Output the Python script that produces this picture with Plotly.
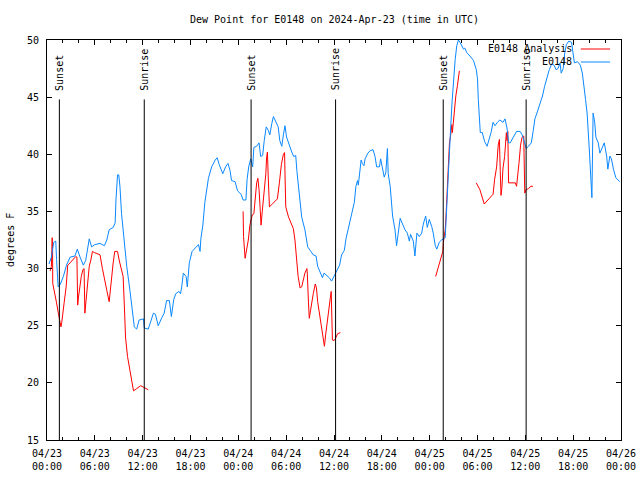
import pandas as pd
import plotly.graph_objects as go

BASE = pd.Timestamp("2024-04-23 00:00")

# Observed dew point (E0148): hours since 04/23 00:00 UTC, degrees F
obs_h = [0.25,0.55,0.85,1.1,1.2,1.4,1.65,2.05,2.45,2.9,3.5,3.8,4.15,4.55,4.85,5.05,5.3,5.6,6.0,6.65,7.2,7.5,7.8,8.3,8.55,8.65,8.85,9.0,9.15,9.35,9.7,10.0,10.4,10.7,10.95,11.25,11.55,12.1,12.2,12.7,13.05,13.35,13.6,13.95,14.4,14.7,15.0,15.35,15.6,15.9,16.15,16.55,16.75,16.9,17.1,17.45,17.6,17.85,18.2,18.7,19.0,19.2,19.3,19.55,19.8,20.25,20.65,21.1,21.35,21.6,22.05,22.4,22.7,22.95,23.15,23.6,23.9,24.35,24.6,24.95,25.1,25.3,25.55,25.8,25.95,26.3,26.6,26.8,27.05,27.25,27.5,27.75,27.95,28.2,28.4,28.6,28.8,29.0,29.2,29.45,29.65,29.85,30.05,30.35,30.7,30.95,31.2,31.35,31.6,31.95,32.35,32.7,33.0,33.4,33.75,33.95,34.25,34.55,34.75,35.1,35.4,35.7,36.05,36.35,36.7,36.95,37.3,37.5,37.9,38.2,38.55,38.75,38.95,39.05,39.2,39.4,39.55,39.75,39.9,40.25,40.5,40.9,41.15,41.35,41.7,41.85,42.05,42.3,42.5,42.7,42.8,43.05,43.35,43.65,43.85,44.1,44.3,44.6,44.9,45.2,45.45,45.6,45.95,46.15,46.4,46.7,47.0,47.2,47.5,47.7,47.95,48.25,48.45,48.7,48.9,49.2,49.5,49.95,50.05,50.25,50.45,50.65,50.8,51.0,51.2,51.4,51.6,51.8,52.05,52.25,52.4,52.65,53.05,53.5,53.85,54.0,54.1,54.25,54.35,54.6,54.7,54.9,55.2,55.45,55.7,55.95,56.2,56.5,56.8,57.2,57.45,57.7,57.9,58.1,58.5,58.9,59.35,59.6,59.85,60.1,60.4,60.75,61.0,61.2,61.5,61.85,62.15,62.4,62.7,63.0,63.3,63.6,63.85,64.1,64.35,64.5,64.75,64.95,65.15,65.45,65.8,66.0,66.15,66.55,66.9,67.15,67.3,67.55,67.75,67.85,68.05,68.2,68.35,68.5,68.7,68.85,69.15,69.35,69.55,69.9,70.2,70.35,70.6,70.8,71.05,71.35,71.85]
obs_v = [30.4,31.0,32.3,32.4,30.8,28.4,28.6,29.3,30.3,31.0,31.1,31.7,31.0,30.3,30.7,31.6,32.6,31.9,32.1,32.2,32.0,32.5,33.4,33.6,34.0,36.0,38.2,38.2,37.2,34.8,32.2,30.2,28.1,26.1,24.9,24.7,25.5,25.6,24.8,24.7,25.5,26.1,26.0,25.0,25.7,26.1,27.2,27.2,25.8,27.3,27.8,28.0,27.8,28.4,29.6,29.3,28.4,30.5,31.5,31.9,32.1,31.5,32.6,33.8,35.8,37.9,38.9,39.5,39.7,39.1,38.3,38.9,39.2,38.6,37.7,37.6,36.8,36.5,36.0,36.0,37.8,38.9,39.6,38.9,40.6,40.7,41.0,39.8,39.9,41.2,42.4,42.1,41.7,42.7,43.3,43.0,42.7,42.4,41.2,40.7,41.7,42.5,41.5,40.8,40.2,39.8,39.9,38.5,36.9,34.5,33.4,31.9,31.6,31.2,31.1,30.2,29.7,29.2,29.6,29.4,29.2,28.9,29.4,29.9,30.3,31.2,31.6,32.6,33.8,34.7,35.8,37.2,37.7,37.3,38.3,39.5,39.2,39.0,39.6,40.1,40.3,40.4,39.8,38.9,38.9,39.6,38.9,38.0,38.4,40.5,38.3,37.2,34.6,33.4,32.0,33.4,34.4,33.9,33.4,33.1,32.4,33.0,32.4,31.1,33.1,32.8,33.1,33.9,34.6,33.6,34.3,33.7,33.1,32.0,31.7,32.3,32.5,32.7,34.3,37.5,40.4,42.5,44.5,46.8,48.3,49.5,50.0,49.8,49.5,49.2,49.3,48.9,48.6,48.2,47.4,46.6,44.8,42.8,41.9,41.9,41.6,41.1,40.7,41.2,41.9,42.8,42.5,42.8,43.0,42.8,43.1,42.3,41.0,41.0,41.5,42.0,42.0,41.7,41.2,40.5,40.7,41.0,42.1,43.1,43.7,44.4,45.1,45.9,46.7,47.4,47.9,47.8,47.4,47.5,48.0,47.1,47.5,48.9,49.6,49.9,49.8,48.9,48.0,48.1,47.8,47.1,46.0,44.8,43.6,41.9,40.1,38.1,36.2,43.6,42.8,41.5,41.0,40.1,40.4,41.0,39.85,38.7,39.85,39.6,38.7,37.95,37.6]

# Analysis dew point (E0148 Analysis), four segments with gaps between them
ana1_h = [0.4,0.55,0.65,0.7,0.72,1.0,1.2,1.42,1.6,1.75,1.85,1.95,2.15,2.4,2.6,2.9,3.3,3.6,3.75,3.85,3.95,4.15,4.3,4.5,4.65,4.75,4.9,5.05,5.2,5.3,5.5,5.7,5.95,6.35,6.65,6.95,7.2,7.5,7.8,8.05,8.3,8.5,8.85,9.05,9.35,9.55,9.7,9.85,10.1,10.4,10.6,10.85,11.25,11.75,12.15,12.7]
ana1_v = [29.8,30.2,32.7,31.6,28.7,27.8,27.0,26.1,25.5,24.9,25.3,26.1,27.0,28.4,30.3,30.5,30.8,31.05,31.0,26.8,27.5,28.9,29.3,29.9,30.0,26.1,27.3,28.1,29.3,30.2,30.75,31.5,31.4,31.3,31.2,30.0,29.0,28.1,27.1,29.0,30.5,31.5,31.5,30.75,29.9,29.3,26.8,24.0,22.3,21.0,20.0,19.3,19.5,19.75,19.6,19.4]
ana2_h = [24.6,24.65,24.85,25.05,25.25,25.45,25.65,25.75,25.95,26.1,26.3,26.45,26.6,26.75,26.85,27.0,27.25,27.45,27.55,27.65,27.75,27.9,28.2,28.6,28.9,29.15,29.4,29.65,29.8,29.87,29.95,30.3,30.6,30.9,31.1,31.3,31.5,31.75,31.95,32.15,32.35,32.6,32.65,32.8,32.9,33.05,33.2,33.4,33.65,33.8,33.95,34.15,34.4,34.6,34.8,34.95,35.15,35.4,35.55,35.65,35.72,35.8,36.0,36.2,36.45,36.8]
ana2_v = [35.0,32.8,30.9,31.6,32.5,33.8,34.3,34.7,34.8,36.0,37.5,37.9,36.9,35.1,33.8,35.0,36.6,38.3,39.8,40.2,38.0,35.4,35.6,35.9,36.1,37.5,39.1,40.0,40.15,37.75,35.4,34.5,34.0,33.5,32.5,31.0,29.3,28.3,28.4,29.0,29.6,30.0,29.6,27.0,25.65,26.3,27.0,27.8,28.65,28.3,27.1,26.1,24.8,23.75,23.2,24.2,25.5,26.7,27.5,28.0,25.8,23.75,23.7,23.9,24.3,24.4]
ana3_h = [48.75,49.1,49.4,49.65,49.72,49.85,49.95,50.05,50.15,50.23,50.35,50.48,50.65,50.78,50.85,50.98,51.1,51.28,51.48,51.6,51.73]
ana3_v = [29.3,30.2,31.0,31.5,32.3,32.85,33.4,34.6,36.1,37.8,39.6,41.0,41.75,42.6,41.9,42.9,43.9,45.1,46.0,46.85,47.3]
ana4_h = [53.85,54.3,54.85,55.35,55.95,56.15,56.4,56.6,56.75,56.85,56.95,57.05,57.2,57.4,57.5,57.62,57.7,57.8,57.9,58.3,58.75,58.9,59.05,59.2,59.4,59.6,59.8,59.93,60.1,60.4,60.7,60.95]
ana4_v = [37.5,36.9,35.65,36.0,36.5,37.8,38.9,40.8,41.3,38.6,36.4,37.0,38.8,39.8,41.2,41.9,41.2,42.0,37.5,37.5,37.5,37.2,38.0,39.2,40.8,41.5,41.6,36.6,36.9,37.0,37.2,37.2]

# Sun events (hours since 04/23 00:00 UTC)
event_h = [1.55, 12.2, 25.6, 36.2, 49.7, 60.1]
event_names = ["Sunset", "Sunrise", "Sunset", "Sunrise", "Sunset", "Sunrise"]
event_line_top = 44.8
event_label_y = 45.4

# Axis ticks
tick_h = [0, 6, 12, 18, 24, 30, 36, 42, 48, 54, 60, 66, 72]
tick_labels = ["04/23<br>00:00", "04/23<br>06:00", "04/23<br>12:00", "04/23<br>18:00",
               "04/24<br>00:00", "04/24<br>06:00", "04/24<br>12:00", "04/24<br>18:00",
               "04/25<br>00:00", "04/25<br>06:00", "04/25<br>12:00", "04/25<br>18:00",
               "04/26<br>00:00"]
y_ticks = [15, 20, 25, 30, 35, 40, 45, 50]

def to_time(hours):
    return [None if h is None else BASE + pd.Timedelta(hours=h) for h in hours]

red_h, red_v = [], []
for hh, vv in [(ana1_h, ana1_v), (ana2_h, ana2_v), (ana3_h, ana3_v), (ana4_h, ana4_v)]:
    if red_h:
        red_h.append(None); red_v.append(None)
    red_h += hh; red_v += vv

FONT = "DejaVu Sans Mono"
RED = "#ff0000"
BLUE = "#0a88ff"

fig = go.Figure()
fig.add_trace(go.Scatter(x=to_time(red_h), y=red_v, mode="lines",
                         line=dict(color=RED, width=1), connectgaps=False,
                         name="E0148 Analysis", showlegend=False, hoverinfo="skip"))
fig.add_trace(go.Scatter(x=to_time(obs_h), y=obs_v, mode="lines",
                         line=dict(color=BLUE, width=1),
                         name="E0148", showlegend=False, hoverinfo="skip"))

for h, name in zip(event_h, event_names):
    t = BASE + pd.Timedelta(hours=h)
    fig.add_shape(type="line", xref="x", yref="y", x0=t, x1=t, y0=15, y1=event_line_top,
                  line=dict(color="black", width=1))
    fig.add_annotation(x=t, y=event_label_y, xref="x", yref="y", text=name,
                       textangle=-90, showarrow=False, xanchor="center", yanchor="bottom",
                       font=dict(family=FONT, size=10, color="black"))

# Title and axis label
fig.add_annotation(x=0.5, y=1.05, xref="paper", yref="paper",
                   text="Dew Point for E0148 on 2024-Apr-23 (time in UTC)",
                   showarrow=False, xanchor="center", yanchor="middle",
                   font=dict(family=FONT, size=10, color="black"))
fig.add_annotation(x=-0.0645, y=0.5, xref="paper", yref="paper", text="degrees F",
                   textangle=-90, showarrow=False, xanchor="center", yanchor="middle",
                   font=dict(family=FONT, size=10, color="black"))

# Legend (gnuplot style: text then sample)
legend_items = [("E0148 Analysis", RED), ("E0148", BLUE)]
for i, (label, col) in enumerate(legend_items):
    ly = 0.9775 - i * 0.0325
    fig.add_annotation(x=0.918, y=ly, xref="paper", yref="paper", text=label,
                       showarrow=False, xanchor="right", yanchor="middle",
                       font=dict(family=FONT, size=10, color="black"))
    fig.add_shape(type="line", xref="paper", yref="paper", x0=0.930, x1=0.981,
                  y0=ly, y1=ly, line=dict(color=col, width=1))

fig.update_layout(
    width=640, height=480,
    margin=dict(l=47, r=19, t=40, b=40, autoexpand=False),
    paper_bgcolor="white", plot_bgcolor="white",
    font=dict(family=FONT, size=10, color="black"),
    showlegend=False,
)
fig.update_xaxes(
    range=[BASE, BASE + pd.Timedelta(hours=72)],
    tickvals=to_time(tick_h), ticktext=tick_labels,
    ticks="inside", ticklen=5, tickcolor="black", ticklabelstandoff=4,
    minor=dict(dtick=2 * 3600 * 1000, tick0=BASE, ticks="inside", ticklen=3, tickcolor="black"),
    showline=True, linecolor="black", linewidth=1, mirror="allticks",
    showgrid=False, zeroline=False,
    tickfont=dict(family=FONT, size=10),
)
fig.update_yaxes(
    range=[15, 50], tickvals=y_ticks,
    ticks="inside", ticklen=5, tickcolor="black", ticklabelstandoff=5,
    showline=True, linecolor="black", linewidth=1, mirror="allticks",
    showgrid=False, zeroline=False,
    tickfont=dict(family=FONT, size=10),
)

# Remove the default page margin so the 640x480 figure fills the window exactly.
fig.write_html("out.html",
               config={"displayModeBar": False},
               post_script="document.body.style.margin='0';document.body.style.overflow='hidden';")
